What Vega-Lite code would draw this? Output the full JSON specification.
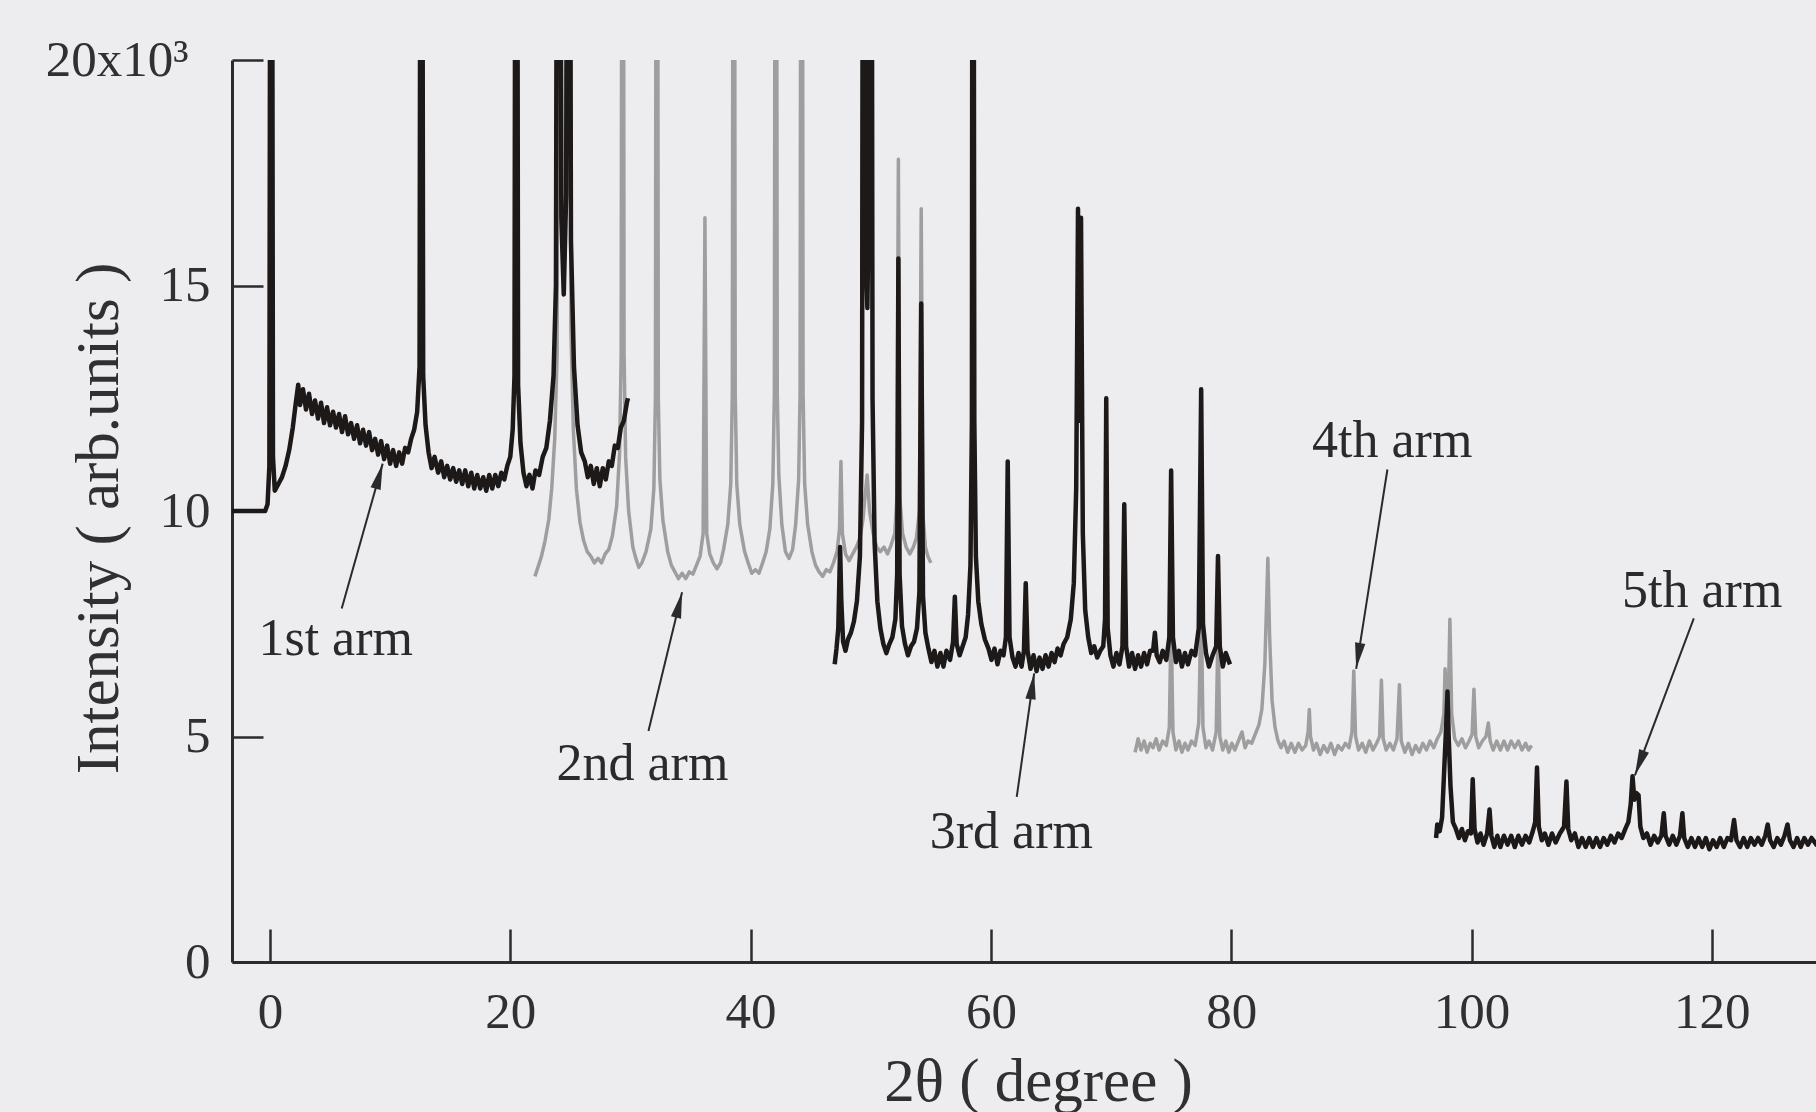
{
"$schema": "https://vega.github.io/schema/vega-lite/v6.json",
"width": 1584,
"height": 902,
"autosize": "none",
"padding": {"left": 232, "top": 60, "right": 0, "bottom": 150},
"background": "#ededf0",
"config": {"view": {"stroke": null}},
"datasets": {
"arm1": [
{"t":-3.2,"i":10.0},{"t":-0.4,"i":10.0},{"t":-0.2,"i":10.15},{"t":-0.05,"i":11.0},{"t":0.1,"i":40},{"t":0.25,"i":11.2},{"t":0.4,"i":10.45},{"t":0.7,"i":10.6},{"t":1.0,"i":10.75},{"t":1.3,"i":11.0},{"t":1.6,"i":11.35},{"t":1.9,"i":11.85},{"t":2.15,"i":12.4},{"t":2.35,"i":12.8},{"t":2.5,"i":12.35},{"t":2.75,"i":12.7},{"t":3.0,"i":12.25},{"t":3.25,"i":12.6},{"t":3.5,"i":12.15},{"t":3.75,"i":12.45},{"t":4.0,"i":12.05},{"t":4.25,"i":12.4},{"t":4.5,"i":11.95},{"t":4.75,"i":12.3},{"t":5.0,"i":11.9},{"t":5.25,"i":12.2},{"t":5.5,"i":11.85},{"t":5.75,"i":12.15},{"t":6.0,"i":11.75},{"t":6.25,"i":12.1},{"t":6.5,"i":11.7},{"t":6.75,"i":11.95},{"t":7.0,"i":11.6},{"t":7.25,"i":11.9},{"t":7.5,"i":11.5},{"t":7.75,"i":11.8},{"t":8.0,"i":11.45},{"t":8.25,"i":11.75},{"t":8.5,"i":11.35},{"t":8.75,"i":11.6},{"t":9.0,"i":11.25},{"t":9.25,"i":11.55},{"t":9.5,"i":11.15},{"t":9.75,"i":11.45},{"t":10.0,"i":11.05},{"t":10.25,"i":11.35},{"t":10.5,"i":11.0},{"t":10.75,"i":11.3},{"t":11.0,"i":11.05},{"t":11.25,"i":11.4},{"t":11.5,"i":11.3},{"t":11.75,"i":11.6},{"t":12.0,"i":11.8},{"t":12.25,"i":12.2},{"t":12.45,"i":13.2},{"t":12.6,"i":40},{"t":12.75,"i":13.0},{"t":12.95,"i":11.9},{"t":13.2,"i":11.3},{"t":13.45,"i":10.95},{"t":13.7,"i":11.2},{"t":14.0,"i":10.85},{"t":14.25,"i":11.1},{"t":14.5,"i":10.75},{"t":14.75,"i":11.0},{"t":15.0,"i":10.7},{"t":15.25,"i":10.95},{"t":15.5,"i":10.65},{"t":15.75,"i":10.9},{"t":16.0,"i":10.6},{"t":16.25,"i":10.9},{"t":16.5,"i":10.55},{"t":16.75,"i":10.85},{"t":17.0,"i":10.5},{"t":17.25,"i":10.8},{"t":17.5,"i":10.5},{"t":17.75,"i":10.75},{"t":18.0,"i":10.45},{"t":18.25,"i":10.8},{"t":18.5,"i":10.5},{"t":18.75,"i":10.8},{"t":19.0,"i":10.55},{"t":19.25,"i":10.85},{"t":19.5,"i":10.7},{"t":19.75,"i":11.0},{"t":20.0,"i":11.2},{"t":20.2,"i":11.8},{"t":20.35,"i":13.0},{"t":20.5,"i":40},{"t":20.65,"i":12.8},{"t":20.85,"i":11.5},{"t":21.1,"i":10.85},{"t":21.35,"i":10.55},{"t":21.6,"i":10.8},{"t":21.85,"i":10.5},{"t":22.1,"i":10.9},{"t":22.4,"i":10.8},{"t":22.7,"i":11.2},{"t":23.0,"i":11.4},{"t":23.3,"i":12.0},{"t":23.6,"i":13.0},{"t":23.8,"i":15.0},{"t":24.0,"i":40},{"t":24.25,"i":16.5},{"t":24.45,"i":14.8},{"t":24.65,"i":17.0},{"t":24.85,"i":40},{"t":25.05,"i":16.0},{"t":25.3,"i":13.2},{"t":25.6,"i":11.9},{"t":25.9,"i":11.3},{"t":26.2,"i":11.1},{"t":26.45,"i":10.75},{"t":26.7,"i":11.0},{"t":26.95,"i":10.6},{"t":27.2,"i":10.95},{"t":27.45,"i":10.55},{"t":27.7,"i":10.95},{"t":27.95,"i":10.7},{"t":28.2,"i":11.1},{"t":28.45,"i":11.0},{"t":28.7,"i":11.45},{"t":28.95,"i":11.4},{"t":29.2,"i":11.85},{"t":29.45,"i":12.0},{"t":29.7,"i":12.4},{"t":29.8,"i":12.5}
],
"arm2": [
{"t":22.05,"i":8.55},{"t":22.3,"i":8.75},{"t":22.6,"i":9.0},{"t":22.9,"i":9.35},{"t":23.2,"i":9.8},{"t":23.45,"i":10.5},{"t":23.7,"i":11.6},{"t":23.9,"i":13.5},{"t":24.1,"i":40},{"t":24.3,"i":17.0},{"t":24.5,"i":15.5},{"t":24.7,"i":18},{"t":24.9,"i":40},{"t":25.05,"i":14.0},{"t":25.25,"i":11.8},{"t":25.5,"i":10.5},{"t":25.8,"i":9.75},{"t":26.1,"i":9.35},{"t":26.4,"i":9.1},{"t":26.7,"i":9.0},{"t":27.0,"i":8.85},{"t":27.3,"i":8.95},{"t":27.6,"i":8.85},{"t":27.9,"i":9.05},{"t":28.2,"i":9.15},{"t":28.5,"i":9.45},{"t":28.85,"i":10.1},{"t":29.1,"i":11.3},{"t":29.23,"i":13.5},{"t":29.35,"i":40},{"t":29.47,"i":13.5},{"t":29.6,"i":11.2},{"t":29.85,"i":10.0},{"t":30.2,"i":9.2},{"t":30.45,"i":8.95},{"t":30.7,"i":8.75},{"t":30.95,"i":8.85},{"t":31.3,"i":9.1},{"t":31.7,"i":9.6},{"t":31.95,"i":10.5},{"t":32.08,"i":12.5},{"t":32.2,"i":40},{"t":32.32,"i":12.5},{"t":32.45,"i":10.7},{"t":32.7,"i":9.8},{"t":33.1,"i":9.1},{"t":33.4,"i":8.8},{"t":33.7,"i":8.65},{"t":34.0,"i":8.5},{"t":34.3,"i":8.62},{"t":34.6,"i":8.5},{"t":34.9,"i":8.65},{"t":35.2,"i":8.6},{"t":35.5,"i":8.8},{"t":35.8,"i":9.0},{"t":36.05,"i":9.5},{"t":36.2,"i":16.5},{"t":36.35,"i":9.5},{"t":36.6,"i":9.05},{"t":36.9,"i":8.85},{"t":37.2,"i":8.72},{"t":37.5,"i":8.85},{"t":37.75,"i":9.15},{"t":38.1,"i":9.7},{"t":38.35,"i":10.6},{"t":38.48,"i":12.6},{"t":38.6,"i":40},{"t":38.72,"i":12.6},{"t":38.85,"i":10.6},{"t":39.1,"i":9.7},{"t":39.5,"i":9.1},{"t":39.8,"i":8.85},{"t":40.1,"i":8.62},{"t":40.4,"i":8.7},{"t":40.7,"i":8.62},{"t":41.0,"i":8.85},{"t":41.3,"i":9.1},{"t":41.6,"i":9.6},{"t":41.85,"i":10.6},{"t":41.98,"i":12.6},{"t":42.1,"i":40},{"t":42.22,"i":12.6},{"t":42.35,"i":10.8},{"t":42.6,"i":9.7},{"t":42.9,"i":9.1},{"t":43.2,"i":8.95},{"t":43.5,"i":9.15},{"t":43.75,"i":9.7},{"t":44.0,"i":10.7},{"t":44.12,"i":12.6},{"t":44.25,"i":40},{"t":44.37,"i":12.6},{"t":44.5,"i":10.6},{"t":44.75,"i":9.7},{"t":45.1,"i":9.1},{"t":45.4,"i":8.8},{"t":45.7,"i":8.65},{"t":46.0,"i":8.55},{"t":46.3,"i":8.7},{"t":46.6,"i":8.65},{"t":46.9,"i":8.85},{"t":47.2,"i":9.1},{"t":47.4,"i":9.6},{"t":47.52,"i":11.1},{"t":47.64,"i":9.5},{"t":47.9,"i":9.05},{"t":48.2,"i":8.9},{"t":48.5,"i":9.05},{"t":48.8,"i":9.2},{"t":49.1,"i":9.4},{"t":49.35,"i":9.8},{"t":49.55,"i":10.4},{"t":49.7,"i":10.8},{"t":49.9,"i":10.0},{"t":50.2,"i":9.5},{"t":50.5,"i":9.2},{"t":50.8,"i":9.1},{"t":51.1,"i":9.2},{"t":51.4,"i":9.05},{"t":51.7,"i":9.25},{"t":52.0,"i":9.5},{"t":52.18,"i":10.3},{"t":52.3,"i":17.8},{"t":52.42,"i":10.3},{"t":52.65,"i":9.5},{"t":52.95,"i":9.2},{"t":53.25,"i":9.05},{"t":53.55,"i":9.2},{"t":53.8,"i":9.4},{"t":54.05,"i":10.0},{"t":54.2,"i":16.7},{"t":54.35,"i":9.9},{"t":54.55,"i":9.2},{"t":54.75,"i":9.0},{"t":55.0,"i":8.85}
],
"arm3": [
{"t":47.0,"i":6.6},{"t":47.15,"i":6.95},{"t":47.3,"i":7.4},{"t":47.45,"i":9.2},{"t":47.55,"i":8.0},{"t":47.7,"i":7.1},{"t":47.9,"i":6.9},{"t":48.1,"i":7.15},{"t":48.35,"i":7.3},{"t":48.6,"i":7.55},{"t":48.85,"i":8.0},{"t":49.1,"i":9.0},{"t":49.28,"i":12.0},{"t":49.4,"i":40},{"t":49.55,"i":16},{"t":49.72,"i":14.5},{"t":49.88,"i":18},{"t":50.0,"i":40},{"t":50.15,"i":12.5},{"t":50.32,"i":9.3},{"t":50.55,"i":8.0},{"t":50.8,"i":7.4},{"t":51.05,"i":7.05},{"t":51.3,"i":6.85},{"t":51.55,"i":7.05},{"t":51.8,"i":7.2},{"t":52.05,"i":7.6},{"t":52.2,"i":8.6},{"t":52.3,"i":15.6},{"t":52.4,"i":8.6},{"t":52.6,"i":7.45},{"t":52.85,"i":7.05},{"t":53.1,"i":6.8},{"t":53.35,"i":7.0},{"t":53.6,"i":7.1},{"t":53.85,"i":7.4},{"t":54.05,"i":8.2},{"t":54.2,"i":14.6},{"t":54.35,"i":8.1},{"t":54.55,"i":7.3},{"t":54.8,"i":6.95},{"t":55.05,"i":6.65},{"t":55.3,"i":6.9},{"t":55.55,"i":6.55},{"t":55.8,"i":6.85},{"t":56.05,"i":6.55},{"t":56.3,"i":6.9},{"t":56.6,"i":6.7},{"t":56.85,"i":7.1},{"t":57.0,"i":8.1},{"t":57.15,"i":7.05},{"t":57.4,"i":6.8},{"t":57.65,"i":7.0},{"t":57.9,"i":7.2},{"t":58.1,"i":7.7},{"t":58.3,"i":8.8},{"t":58.42,"i":12},{"t":58.5,"i":40},{"t":58.62,"i":12},{"t":58.75,"i":9.0},{"t":58.95,"i":8.0},{"t":59.2,"i":7.5},{"t":59.5,"i":7.15},{"t":59.8,"i":6.95},{"t":60.05,"i":6.7},{"t":60.3,"i":6.95},{"t":60.55,"i":6.6},{"t":60.8,"i":6.9},{"t":61.05,"i":6.8},{"t":61.25,"i":7.2},{"t":61.4,"i":11.1},{"t":61.55,"i":7.2},{"t":61.8,"i":6.75},{"t":62.05,"i":6.55},{"t":62.3,"i":6.85},{"t":62.55,"i":6.55},{"t":62.75,"i":6.9},{"t":62.9,"i":8.4},{"t":63.05,"i":6.9},{"t":63.3,"i":6.5},{"t":63.55,"i":6.8},{"t":63.8,"i":6.45},{"t":64.05,"i":6.75},{"t":64.3,"i":6.5},{"t":64.55,"i":6.8},{"t":64.8,"i":6.55},{"t":65.05,"i":6.85},{"t":65.3,"i":6.65},{"t":65.55,"i":6.95},{"t":65.8,"i":6.8},{"t":66.05,"i":7.05},{"t":66.35,"i":7.2},{"t":66.65,"i":7.6},{"t":66.9,"i":8.4},{"t":67.1,"i":10.5},{"t":67.25,"i":16.7},{"t":67.38,"i":12.0},{"t":67.5,"i":16.5},{"t":67.65,"i":9.5},{"t":67.85,"i":7.8},{"t":68.1,"i":7.2},{"t":68.35,"i":6.85},{"t":68.6,"i":7.0},{"t":68.85,"i":6.75},{"t":69.1,"i":6.9},{"t":69.35,"i":7.0},{"t":69.5,"i":7.6},{"t":69.6,"i":12.5},{"t":69.72,"i":7.4},{"t":69.95,"i":6.8},{"t":70.2,"i":6.55},{"t":70.45,"i":6.85},{"t":70.7,"i":6.6},{"t":70.95,"i":7.0},{"t":71.1,"i":10.15},{"t":71.25,"i":7.0},{"t":71.5,"i":6.55},{"t":71.75,"i":6.85},{"t":72.0,"i":6.5},{"t":72.25,"i":6.8},{"t":72.5,"i":6.55},{"t":72.75,"i":6.85},{"t":73.0,"i":6.6},{"t":73.25,"i":6.9},{"t":73.5,"i":6.9},{"t":73.65,"i":7.3},{"t":73.8,"i":6.8},{"t":74.05,"i":6.65},{"t":74.3,"i":6.9},{"t":74.6,"i":6.7},{"t":74.85,"i":7.2},{"t":75.0,"i":10.9},{"t":75.15,"i":7.2},{"t":75.4,"i":6.65},{"t":75.65,"i":6.9},{"t":75.9,"i":6.55},{"t":76.15,"i":6.85},{"t":76.4,"i":6.6},{"t":76.7,"i":6.9},{"t":77.0,"i":6.8},{"t":77.3,"i":7.4},{"t":77.5,"i":12.7},{"t":77.65,"i":7.5},{"t":77.9,"i":6.85},{"t":78.15,"i":6.55},{"t":78.45,"i":6.8},{"t":78.75,"i":7.0},{"t":78.9,"i":9.0},{"t":79.05,"i":7.0},{"t":79.3,"i":6.55},{"t":79.55,"i":6.85},{"t":79.9,"i":6.6}
],
"arm4": [
{"t":72.0,"i":4.65},{"t":72.25,"i":4.95},{"t":72.5,"i":4.7},{"t":72.75,"i":4.9},{"t":73.0,"i":4.65},{"t":73.25,"i":4.85},{"t":73.5,"i":4.75},{"t":73.75,"i":4.95},{"t":74.0,"i":4.7},{"t":74.3,"i":4.9},{"t":74.6,"i":4.8},{"t":74.85,"i":5.2},{"t":75.0,"i":7.6},{"t":75.15,"i":5.1},{"t":75.4,"i":4.7},{"t":75.65,"i":4.9},{"t":75.9,"i":4.65},{"t":76.15,"i":4.85},{"t":76.4,"i":4.7},{"t":76.7,"i":4.9},{"t":77.0,"i":4.8},{"t":77.3,"i":5.3},{"t":77.5,"i":8.0},{"t":77.65,"i":5.2},{"t":77.9,"i":4.75},{"t":78.15,"i":4.9},{"t":78.45,"i":4.7},{"t":78.75,"i":5.1},{"t":78.9,"i":7.4},{"t":79.05,"i":5.0},{"t":79.3,"i":4.7},{"t":79.55,"i":4.9},{"t":79.8,"i":4.65},{"t":80.05,"i":4.85},{"t":80.3,"i":4.7},{"t":80.6,"i":4.9},{"t":80.9,"i":5.1},{"t":81.15,"i":4.75},{"t":81.4,"i":4.9},{"t":81.7,"i":4.85},{"t":82.0,"i":5.05},{"t":82.3,"i":5.25},{"t":82.55,"i":5.6},{"t":82.8,"i":6.6},{"t":82.95,"i":8.0},{"t":83.05,"i":8.95},{"t":83.2,"i":7.2},{"t":83.4,"i":5.8},{"t":83.65,"i":5.2},{"t":83.9,"i":4.9},{"t":84.15,"i":4.75},{"t":84.4,"i":4.9},{"t":84.7,"i":4.65},{"t":85.0,"i":4.85},{"t":85.3,"i":4.65},{"t":85.6,"i":4.85},{"t":85.9,"i":4.7},{"t":86.2,"i":4.8},{"t":86.4,"i":5.1},{"t":86.5,"i":5.6},{"t":86.6,"i":5.0},{"t":86.85,"i":4.7},{"t":87.1,"i":4.85},{"t":87.4,"i":4.6},{"t":87.7,"i":4.8},{"t":88.0,"i":4.65},{"t":88.3,"i":4.85},{"t":88.6,"i":4.6},{"t":88.9,"i":4.8},{"t":89.2,"i":4.7},{"t":89.5,"i":4.85},{"t":89.8,"i":4.75},{"t":90.05,"i":5.1},{"t":90.2,"i":6.45},{"t":90.35,"i":5.0},{"t":90.6,"i":4.7},{"t":90.9,"i":4.85},{"t":91.2,"i":4.65},{"t":91.5,"i":4.9},{"t":91.8,"i":4.7},{"t":92.1,"i":4.85},{"t":92.35,"i":5.0},{"t":92.5,"i":6.25},{"t":92.65,"i":4.95},{"t":92.9,"i":4.7},{"t":93.2,"i":4.85},{"t":93.5,"i":4.7},{"t":93.8,"i":4.95},{"t":94.0,"i":6.15},{"t":94.15,"i":4.9},{"t":94.45,"i":4.65},{"t":94.75,"i":4.85},{"t":95.05,"i":4.6},{"t":95.35,"i":4.8},{"t":95.65,"i":4.65},{"t":95.95,"i":4.85},{"t":96.25,"i":4.7},{"t":96.55,"i":4.9},{"t":96.85,"i":4.75},{"t":97.15,"i":4.95},{"t":97.45,"i":5.1},{"t":97.7,"i":5.5},{"t":97.8,"i":6.5},{"t":97.95,"i":5.6},{"t":98.1,"i":6.2},{"t":98.2,"i":7.6},{"t":98.35,"i":5.5},{"t":98.6,"i":4.95},{"t":98.9,"i":4.8},{"t":99.2,"i":4.95},{"t":99.5,"i":4.75},{"t":99.8,"i":4.9},{"t":100.05,"i":5.05},{"t":100.2,"i":6.05},{"t":100.35,"i":5.0},{"t":100.6,"i":4.75},{"t":100.9,"i":4.9},{"t":101.2,"i":5.0},{"t":101.4,"i":5.3},{"t":101.55,"i":4.9},{"t":101.8,"i":4.7},{"t":102.1,"i":4.9},{"t":102.4,"i":4.7},{"t":102.7,"i":4.9},{"t":103.0,"i":4.7},{"t":103.3,"i":4.9},{"t":103.6,"i":4.75},{"t":103.9,"i":4.9},{"t":104.2,"i":4.7},{"t":104.5,"i":4.85},{"t":104.75,"i":4.7},{"t":105.0,"i":4.8}
],
"arm5": [
{"t":97.05,"i":2.75},{"t":97.15,"i":3.05},{"t":97.35,"i":2.9},{"t":97.55,"i":3.2},{"t":97.75,"i":4.4},{"t":97.9,"i":5.3},{"t":98.0,"i":6.0},{"t":98.1,"i":5.0},{"t":98.25,"i":3.9},{"t":98.45,"i":3.1},{"t":98.7,"i":2.95},{"t":98.95,"i":2.75},{"t":99.2,"i":2.95},{"t":99.45,"i":2.7},{"t":99.7,"i":2.9},{"t":99.95,"i":2.85},{"t":100.1,"i":4.05},{"t":100.25,"i":2.95},{"t":100.5,"i":2.65},{"t":100.75,"i":2.85},{"t":101.0,"i":2.6},{"t":101.3,"i":2.85},{"t":101.5,"i":3.38},{"t":101.65,"i":2.8},{"t":101.9,"i":2.55},{"t":102.15,"i":2.8},{"t":102.4,"i":2.55},{"t":102.7,"i":2.8},{"t":103.0,"i":2.6},{"t":103.3,"i":2.8},{"t":103.6,"i":2.55},{"t":103.9,"i":2.8},{"t":104.2,"i":2.6},{"t":104.5,"i":2.8},{"t":104.8,"i":2.65},{"t":105.1,"i":2.9},{"t":105.3,"i":3.1},{"t":105.45,"i":4.31},{"t":105.6,"i":3.0},{"t":105.85,"i":2.7},{"t":106.1,"i":2.85},{"t":106.4,"i":2.6},{"t":106.7,"i":2.85},{"t":107.0,"i":2.65},{"t":107.35,"i":2.85},{"t":107.7,"i":3.0},{"t":107.9,"i":4.0},{"t":108.05,"i":2.95},{"t":108.3,"i":2.7},{"t":108.6,"i":2.85},{"t":108.9,"i":2.55},{"t":109.2,"i":2.75},{"t":109.5,"i":2.55},{"t":109.8,"i":2.75},{"t":110.1,"i":2.55},{"t":110.4,"i":2.75},{"t":110.7,"i":2.55},{"t":111.0,"i":2.75},{"t":111.3,"i":2.6},{"t":111.6,"i":2.8},{"t":111.9,"i":2.65},{"t":112.2,"i":2.85},{"t":112.5,"i":2.75},{"t":112.8,"i":2.95},{"t":113.05,"i":3.1},{"t":113.25,"i":3.5},{"t":113.4,"i":4.12},{"t":113.55,"i":3.6},{"t":113.7,"i":3.75},{"t":113.9,"i":3.7},{"t":114.05,"i":3.0},{"t":114.3,"i":2.75},{"t":114.6,"i":2.85},{"t":114.9,"i":2.6},{"t":115.2,"i":2.8},{"t":115.5,"i":2.65},{"t":115.8,"i":2.8},{"t":116.0,"i":3.3},{"t":116.15,"i":2.8},{"t":116.45,"i":2.6},{"t":116.75,"i":2.8},{"t":117.05,"i":2.6},{"t":117.35,"i":2.8},{"t":117.55,"i":3.3},{"t":117.7,"i":2.75},{"t":118.0,"i":2.55},{"t":118.3,"i":2.75},{"t":118.6,"i":2.55},{"t":118.9,"i":2.75},{"t":119.2,"i":2.55},{"t":119.5,"i":2.75},{"t":119.8,"i":2.5},{"t":120.1,"i":2.7},{"t":120.4,"i":2.55},{"t":120.7,"i":2.75},{"t":121.0,"i":2.55},{"t":121.3,"i":2.75},{"t":121.6,"i":2.7},{"t":121.85,"i":3.15},{"t":122.05,"i":2.7},{"t":122.35,"i":2.55},{"t":122.65,"i":2.75},{"t":122.95,"i":2.55},{"t":123.25,"i":2.75},{"t":123.55,"i":2.6},{"t":123.85,"i":2.75},{"t":124.15,"i":2.6},{"t":124.45,"i":2.8},{"t":124.65,"i":3.05},{"t":124.85,"i":2.7},{"t":125.15,"i":2.55},{"t":125.45,"i":2.75},{"t":125.75,"i":2.6},{"t":126.05,"i":2.8},{"t":126.3,"i":3.05},{"t":126.5,"i":2.7},{"t":126.8,"i":2.55},{"t":127.1,"i":2.75},{"t":127.4,"i":2.55},{"t":127.7,"i":2.75},{"t":128.0,"i":2.6},{"t":128.3,"i":2.75},{"t":128.7,"i":2.6},{"t":129.0,"i":2.7}
],
"notes": [
{"n":1,"label":"1st arm","t":5.47,"i":7.16,"t1":5.97,"i1":7.84,"t2":9.38,"i2":11.05},
{"n":2,"label":"2nd arm","t":31.0,"i":4.39,"t1":31.5,"i1":5.12,"t2":34.3,"i2":8.2},
{"n":3,"label":"3rd arm","t":61.7,"i":2.89,"t1":62.15,"i1":3.66,"t2":63.6,"i2":6.4},
{"n":4,"label":"4th arm","t":93.4,"i":11.55,"t1":93.0,"i1":10.92,"t2":90.4,"i2":6.5},
{"n":5,"label":"5th arm","t":119.2,"i":8.23,"t1":118.5,"i1":7.62,"t2":113.6,"i2":4.14}
]
},
"layer": [
{
"data": {"name": "arm2"},
"mark": {"type": "line", "clip": true, "color": "#9e9e9e", "strokeWidth": 3.5, "strokeJoin": "round"},
"encoding": {
"x": {"field": "t", "type": "quantitative",
"scale": {"domain": [-3.16, 128.67], "nice": false, "zero": false},
"axis": {"title": "2θ ( degree )", "values": [0, 20, 40, 60, 80, 100, 120], "grid": false,
"tickSize": -33, "tickWidth": 2.5, "tickColor": "#2b2b2b", "domainColor": "#2b2b2b", "domainWidth": 3,
"labelFont": "Liberation Serif", "labelFontSize": 51, "labelColor": "#303030", "labelPadding": 83, "labelBaseline": "middle", "labelFlush": false,
"titleFont": "Liberation Serif", "titleFontSize": 61, "titleFontWeight": "normal", "titleColor": "#303030",
"titleX": 806, "titleY": 138, "titleBaseline": "alphabetic", "titleAlign": "center"}},
"y": {"field": "i", "type": "quantitative",
"scale": {"domain": [0, 20], "nice": false, "zero": true},
"axis": {"title": "Intensity ( arb.units )", "values": [0, 5, 10, 15, 20],
"labelExpr": "datum.value == 20 ? '20x10³' : datum.label", "grid": false,
"tickSize": -31, "tickWidth": 2.5, "tickColor": "#2b2b2b", "domainColor": "#2b2b2b", "domainWidth": 3,
"labelFont": "Liberation Serif", "labelFontSize": 51, "labelColor": "#303030",
"labelPadding": {"condition": {"test": "datum.value == 20", "value": 75}, "value": 53}, "labelFlush": false,
"titleFont": "Liberation Serif", "titleFontSize": 61, "titleFontWeight": "normal", "titleColor": "#303030",
"titleX": -115, "titleY": 458, "titleBaseline": "alphabetic", "titleAlign": "center", "titleAngle": 270}}
}
},
{
"data": {"name": "arm4"},
"mark": {"type": "line", "clip": true, "color": "#9e9e9e", "strokeWidth": 3.5, "strokeJoin": "round"},
"encoding": {"x": {"field": "t", "type": "quantitative"}, "y": {"field": "i", "type": "quantitative"}}
},
{
"data": {"name": "arm1"},
"mark": {"type": "line", "clip": true, "color": "#1d1919", "strokeWidth": 4.5, "strokeJoin": "round"},
"encoding": {"x": {"field": "t", "type": "quantitative"}, "y": {"field": "i", "type": "quantitative"}}
},
{
"data": {"name": "arm3"},
"mark": {"type": "line", "clip": true, "color": "#1d1919", "strokeWidth": 4.5, "strokeJoin": "round"},
"encoding": {"x": {"field": "t", "type": "quantitative"}, "y": {"field": "i", "type": "quantitative"}}
},
{
"data": {"name": "arm5"},
"mark": {"type": "line", "clip": true, "color": "#1d1919", "strokeWidth": 4.5, "strokeJoin": "round"},
"encoding": {"x": {"field": "t", "type": "quantitative"}, "y": {"field": "i", "type": "quantitative"}}
},
{
"mark": {"type": "rule", "color": "#2b2b2b", "strokeWidth": 3},
"encoding": {"y": {"datum": 20}}
},
{
"data": {"name": "notes"},
"mark": {"type": "rule", "color": "#2a2a2a", "strokeWidth": 2},
"encoding": {
"x": {"field": "t1", "type": "quantitative"}, "y": {"field": "i1", "type": "quantitative"},
"x2": {"field": "t2"}, "y2": {"field": "i2"}
}
},
{
"data": {"name": "notes"},
"mark": {"type": "point", "shape": "M0,0L0.4,2L-0.4,2Z", "size": 676, "filled": true, "color": "#2a2a2a", "opacity": 1},
"encoding": {
"x": {"field": "t2", "type": "quantitative"}, "y": {"field": "i2", "type": "quantitative"},
"angle": {"field": "n", "type": "quantitative", "scale": {"type": "linear", "domain": [1, 2, 3, 4, 5], "range": [15.8, 13.6, 8.0, 188.9, 200.6]}, "legend": null}
}
},
{
"data": {"name": "notes"},
"mark": {"type": "text", "font": "Liberation Serif", "fontSize": 52, "color": "#2a2a2a", "align": "center", "baseline": "middle"},
"encoding": {
"x": {"field": "t", "type": "quantitative"}, "y": {"field": "i", "type": "quantitative"},
"text": {"field": "label"}
}
}
]
}
